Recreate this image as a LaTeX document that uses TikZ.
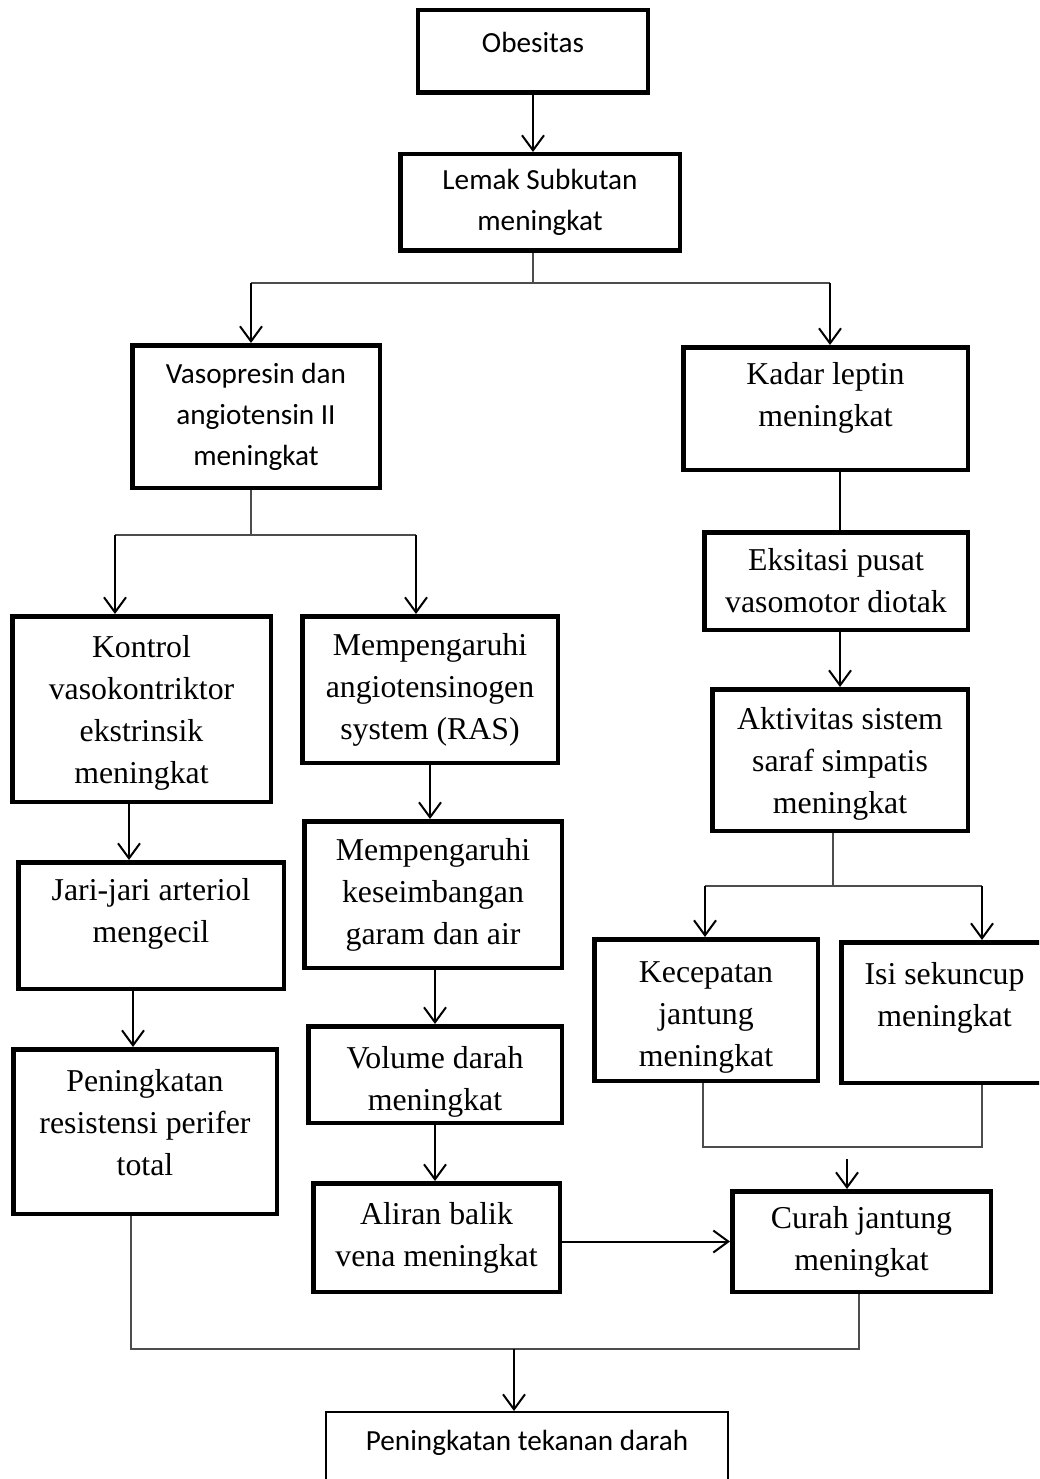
\documentclass[tikz,border=0pt]{standalone}
\usepackage{fontspec}
\usepackage{tikz}
\usetikzlibrary{arrows.meta}

\newfontfamily\timesfont{Liberation Serif}
\newfontfamily\calfont{Carlito}
\newcommand{\lowpad}[1]{\rule[-#1pt]{0pt}{0pt}}
\newcommand{\toppad}[1]{\rule{0pt}{#1pt}}

\begin{document}
\begin{tikzpicture}[x = 1pt, y = -1pt,
        box/.style = {draw, line width = 4.5pt, inner sep = 0pt, align = center,
            font = \timesfont\fontsize{31.8}{42}\selectfont},
        sbox/.style = {box, font = \calfont\fontsize{29.2}{41}\selectfont},
        feed/.style = {line width = 1.2pt, draw = black!70},
        arr/.style = {-{Straight Barb[length = 15pt, width = 22pt]}, line width = 2pt}]
        \useasboundingbox (0, 0) rectangle (1039, 1479);
        \clip (0, 0) rectangle (1039, 1479);

        \node[sbox, minimum width = 230, minimum height = 82.5] (obes) at (533, 51.5) {Obesitas\lowpad{19}};
        \node[sbox, minimum width = 279.5, minimum height = 96.5] (lemak) at (540, 202.5) {Lemak Subkutan\\meningkat};
        \node[sbox, minimum width = 247.5, minimum height = 142.5] (vaso) at (256, 416.5) {Vasopresin dan\\angiotensin II\\meningkat};
        \node[box, minimum width = 284.5, minimum height = 122.5] (kadar) at (825.5, 408.5) {Kadar leptin\\meningkat\lowpad{29}};
        \node[box, minimum width = 263.5, minimum height = 97.5] (eksitasi) at (836, 581) {Eksitasi pusat\\vasomotor diotak};
        \node[box, minimum width = 255.5, minimum height = 141.5] (aktivitas) at (840, 760) {\toppad{30}Aktivitas sistem\\saraf simpatis\\meningkat};
        \node[box, minimum width = 258.5, minimum height = 185.5] (kontrol) at (141.5, 709) {\toppad{30}Kontrol\\vasokontriktor\\ekstrinsik\\meningkat};
        \node[box, minimum width = 255.5, minimum height = 146.5] (ras) at (430, 689.5) {Mempengaruhi\\angiotensinogen\\system (RAS)};
        \node[box, minimum width = 265.5, minimum height = 126.5] (jari) at (151, 925.5) {Jari-jari arteriol\\mengecil\lowpad{31}};
        \node[box, minimum width = 257.5, minimum height = 146.5] (garam) at (433, 894.5) {Mempengaruhi\\keseimbangan\\garam dan air};
        \node[box, minimum width = 263.5, minimum height = 164.5] (resistensi) at (145, 1131.5) {Peningkatan\\resistensi perifer\\total\lowpad{19}};
        \node[box, minimum width = 253.5, minimum height = 96.5] (volume) at (435, 1074.5) {\toppad{36}Volume darah\\meningkat};
        \node[box, minimum width = 223.5, minimum height = 141.5] (kecepatan) at (706, 1010) {\toppad{35}Kecepatan\\jantung\\meningkat};
        \node[box, minimum width = 206.5, minimum height = 140.5] (isi) at (944.5, 1012.5) {Isi sekuncup\\meningkat\lowpad{36}};
        \node[box, minimum width = 246.5, minimum height = 108.5] (aliran) at (436.5, 1237.5) {Aliran balik\\vena meningkat};
        \node[box, minimum width = 258.5, minimum height = 100.5] (curah) at (861.5, 1241.5) {Curah jantung\\meningkat};
        \node[sbox, line width = 2pt, minimum width = 402, minimum height = 72] (tekanan) at (527, 1448) {Peningkatan tekanan darah\lowpad{16}};

        \coordinate (sa) at (533, 283);
        \coordinate (sal) at (251, 283);
        \coordinate (sar) at (830, 283);
        \coordinate (sb) at (251, 535);
        \coordinate (sbl) at (115, 535);
        \coordinate (sbr) at (416, 535);
        \coordinate (sc) at (833, 886);
        \coordinate (scl) at (705, 886);
        \coordinate (scr) at (982, 886);
        \coordinate (sdl) at (703, 1147);
        \coordinate (sdr) at (982, 1147);
        \coordinate (sd) at (847, 1159);
        \coordinate (sel) at (131, 1349);
        \coordinate (ser) at (859, 1349);
        \coordinate (se) at (514, 1349);

        \draw[arr] (obes.south) -- (obes.south |- lemak.north);
        \draw[feed] (sa |- lemak.south) -- (sa);
        \draw[feed] (sal) -- (sar);
        \draw[arr] (sal) -- (sal |- vaso.north);
        \draw[arr] (sar) -- (sar |- kadar.north);

        \draw[feed] (sb |- vaso.south) -- (sb);
        \draw[feed] (sbl) -- (sbr);
        \draw[arr] (sbl) -- (sbl |- kontrol.north);
        \draw[arr] (sbr) -- (sbr |- ras.north);

        \draw[arr] ([xshift = -12.5pt]kontrol.south) -- ([xshift = -12.5pt]kontrol.south |- jari.north);
        \draw[arr] ([xshift = -12pt]resistensi.north |- jari.south) -- ([xshift = -12pt]resistensi.north);
        \draw[arr] (ras.south) -- (ras.south |- garam.north);
        \draw[arr] (volume.north |- garam.south) -- (volume.north);
        \draw[arr] (volume.south) -- (volume.south |- aliran.north);
        \draw[arr] (curah.west -| aliran.east) -- (curah.west);

        \draw[line width = 2pt] ([xshift = 4pt]eksitasi.north |- kadar.south) -- ([xshift = 4pt]eksitasi.north);
        \draw[arr] (aktivitas.north |- eksitasi.south) -- (aktivitas.north);
        \draw[feed] (sc |- aktivitas.south) -- (sc);
        \draw[feed] (scl) -- (scr);
        \draw[arr] (scl) -- (scl |- kecepatan.north);
        \draw[arr] (scr) -- (scr |- isi.north);

        \draw[feed] (sdl |- kecepatan.south) -- (sdl) -- (sdr) -- (sdr |- isi.south);
        \draw[arr] (sd) -- (sd |- curah.north);

        \draw[feed] (sel |- resistensi.south) -- (sel) -- (ser) -- (ser |- curah.south);
        \draw[arr] (se) -- (se |- tekanan.north);
\end{tikzpicture}
\end{document}
